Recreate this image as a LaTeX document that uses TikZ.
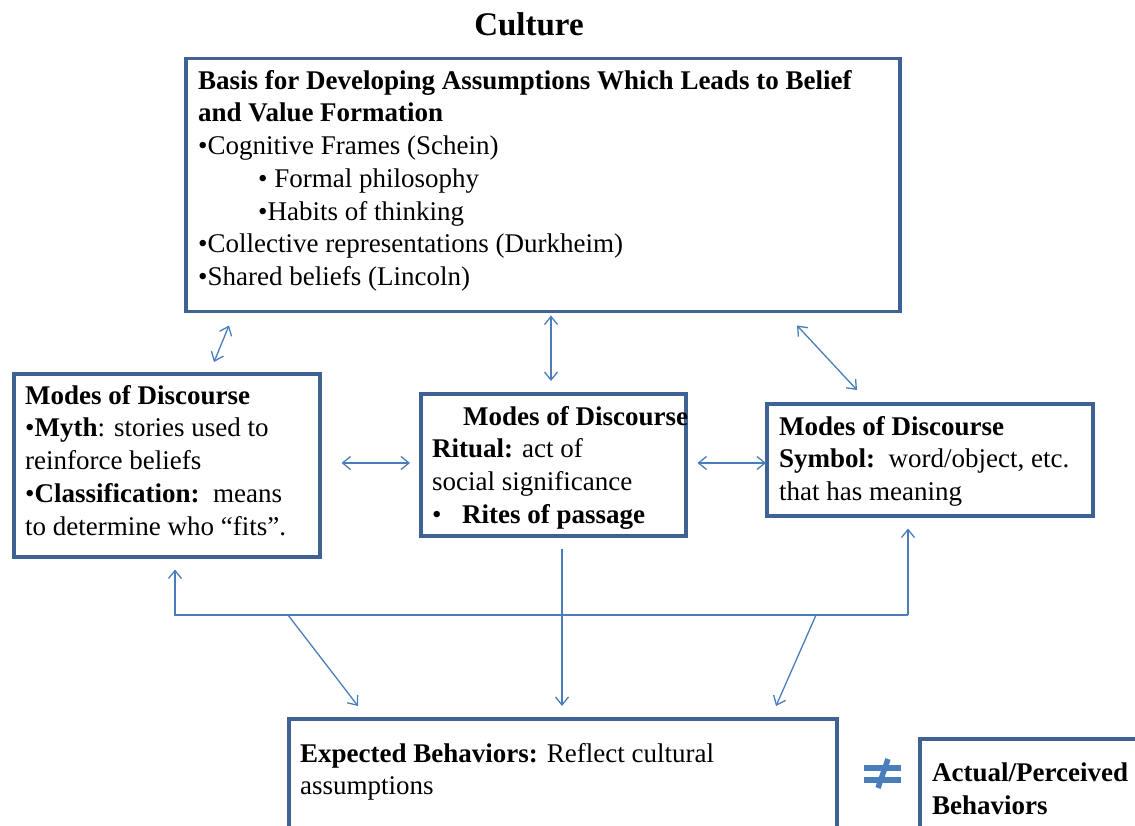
\documentclass[tikz,border=0pt]{standalone}
\usepackage{fontspec}
\setmainfont{Liberation Serif}
\usetikzlibrary{arrows.meta,calc}
\definecolor{boxblue}{HTML}{3F6294}
\definecolor{lineblue}{HTML}{4A7EBB}
\tikzset{
  box/.style={draw=boxblue,line width=3.5pt,inner sep=0pt,anchor=north west},
  txt/.style={anchor=north west,inner sep=0pt,align=left,font=\fontsize{27}{32.7}\selectfont},
  link/.style={lineblue,line width=1.3pt,{Straight Barb[length=8pt,width=13pt]}-{Straight Barb[length=8pt,width=13pt]}},
  feed/.style={lineblue,line width=1.3pt,-{Straight Barb[length=8pt,width=13pt]}}
}
\begin{document}
\begin{tikzpicture}[x=1pt,y=-1pt]
\useasboundingbox (0,0) rectangle (1135,826);
\clip (0,0) rectangle (1135,826);
\node[font=\bfseries\fontsize{33}{38}\selectfont] (title) at (529,24) {Culture};
\node[box,minimum width=714,minimum height=253] (basis) at (184,57) {};
\node[box,minimum width=306,minimum height=183] (myth) at (12,372) {};
\node[box,minimum width=265,minimum height=142] (ritual) at (419,392) {};
\node[box,minimum width=326,minimum height=112] (symbol) at (765,402) {};
\node[box,minimum width=548,minimum height=140] (expected) at (287,717) {};
\node[box,minimum width=240,minimum height=120] (actual) at (918,737) {};
% box texts
\node[txt] (basistext) at (198,70) {\textbf{Basis for Developing Assumptions Which Leads to Belief}\\
  \textbf{and Value Formation}\\
  •Cognitive Frames (Schein)\\
  \hspace*{60pt}• Formal philosophy\\
  \hspace*{60pt}•Habits of thinking\\
  •Collective representations (Durkheim)\\
  •Shared beliefs (Lincoln)};
\node[txt] (mythtext) at (25,385) {\textbf{Modes of Discourse}\\
  •\textbf{Myth}: stories used to\\
  reinforce beliefs\\
  •\textbf{Classification:}\ \ means\\
  to determine who “fits”.};
\node[txt] (ritualtext) at (432,406) {\hspace*{31pt}\textbf{Modes of Discourse}\\
  \textbf{Ritual:} act of\\
  social significance\\
  \makebox[30pt][l]{•}\textbf{Rites of passage}};
\node[txt] (symboltext) at (779,416) {\textbf{Modes of Discourse}\\
  \textbf{Symbol:}\ \ word/object, etc.\\
  that has meaning};
\node[txt] (expectedtext) at (300,743) {\textbf{Expected Behaviors:} Reflect cultural\\
  assumptions};
\node[txt] (actualtext) at (932,763) {\textbf{Actual/Perceived}\\
  \textbf{Behaviors}};
% two-way links
\draw[link] ($(basis.south west)+(45,12)$) -- ($(myth.north west)+(202,-10)$);
\draw[link] ($(basis.south west)+(367,2)$) -- ($(ritual.north west)+(132,-11)$);
\draw[link] ($(basis.south west)+(613,12)$) -- ($(symbol.north west)+(92,-12)$);
\draw[link] ($(myth.north east)+(20,91)$) -- ($(ritual.north west)+(-9,71)$);
\draw[link] ($(ritual.north east)+(10,71)$) -- ($(symbol.north west)+(1,61)$);
% feedback bus
\coordinate (busL) at (175,615);
\coordinate (busR) at (908,615);
\draw[feed] (busR) -- (busL) -- ($(myth.south west)+(163,11)$);
\draw[feed] (busR) -- ($(symbol.south west)+(143,11)$);
\draw[feed] ($(ritual.south west)+(143,11)$) -- ($(expected.north west)+(275,-11)$);
\draw[feed] ($(busL)+(113,0)$) -- ($(expected.north west)+(71,-11)$);
\draw[feed] ($(busL)+(641,0)$) -- ($(expected.north west)+(489,-11)$);
% not-equal sign
\fill[lineblue] (864,765) rectangle (901,771);
\fill[lineblue] (864,777) rectangle (901,783);
\draw[lineblue,line width=5.5pt] (888,759) -- (878,788);
\end{tikzpicture}
\end{document}
